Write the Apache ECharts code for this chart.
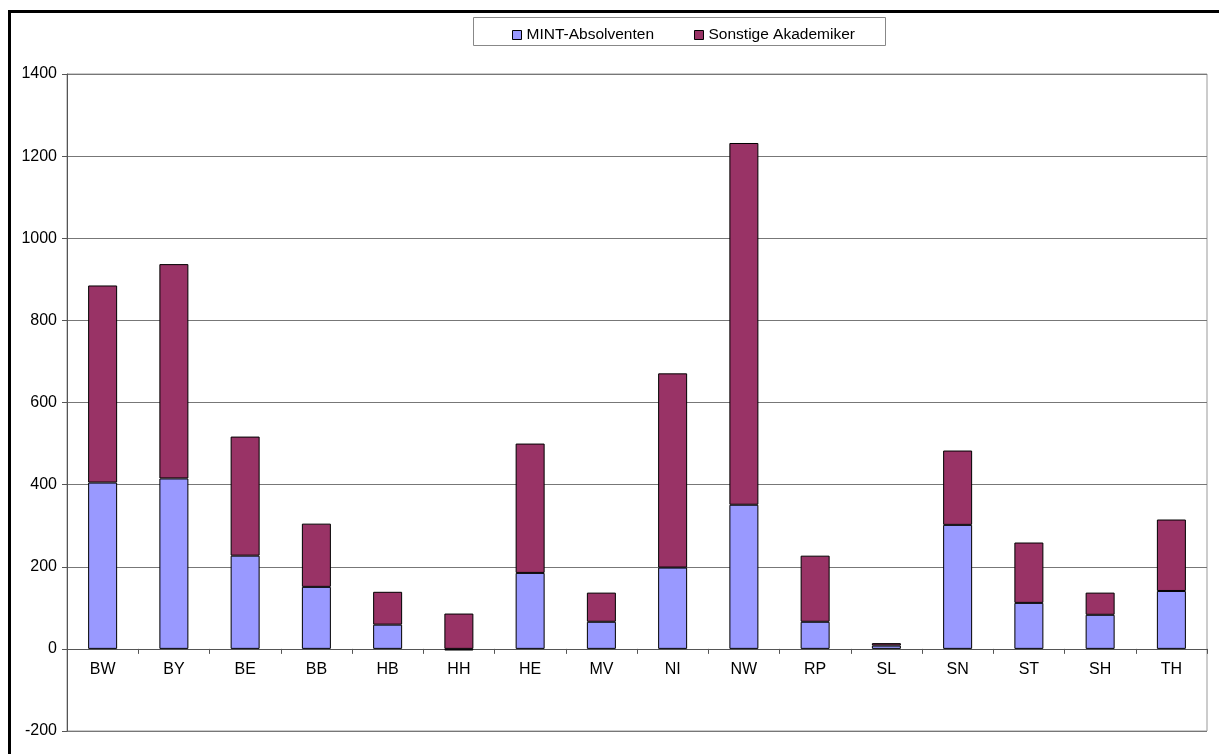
<!DOCTYPE html>
<html>
<head>
<meta charset="utf-8">
<script src="https://cdn.jsdelivr.net/npm/echarts@6/dist/echarts.min.js"></script>
<style>
html, body { margin: 0; padding: 0; background: #fff; }
#chart { width: 1219px; height: 754px; }
</style>
</head>
<body>
<div id="chart"></div>
<script>
// Bundesländer
var laender = ["BW", "BY", "BE", "BB", "HB", "HH", "HE", "MV", "NI", "NW", "RP", "SL", "SN", "ST", "SH", "TH"];
var mint = [405, 415, 227, 151, 59, -4, 185, 66, 198, 351, 66, 8, 302, 112, 83, 141];
var sonstige = [480, 522, 290, 154, 80, 86, 315, 71, 473, 881, 161, 6, 181, 147, 54, 174];

var myChart = echarts.init(document.getElementById("chart"));
myChart.setOption({
  animation: false,
  textStyle: { fontFamily: "Liberation Sans, Arial, sans-serif" },
  color: ["#9999FF", "#993366"],
  graphic: [
    {
      // outer frame
      type: "rect",
      shape: { x: 9.5, y: 11.5, width: 1400, height: 900 },
      style: { fill: "none", stroke: "#000", lineWidth: 3 },
      silent: true
    },
    {
      // legend box
      type: "rect",
      shape: { x: 473.5, y: 17.5, width: 412, height: 28 },
      style: { fill: "#fff", stroke: "#888", lineWidth: 1 },
      silent: true,
      z: 0
    }
  ],
  grid: {
    left: 67,
    right: 12,
    top: 74,
    bottom: 23,
    outerBoundsMode: "none",
    show: true,
    borderColor: "#999",
    borderWidth: 1
  },
  legend: {
    top: 22,
    left: 507,
    itemWidth: 9,
    itemHeight: 9,
    itemGap: 40,
    icon: "rect",
    textStyle: { color: "#000", fontSize: 15.5 },
    itemStyle: { borderColor: "#000", borderWidth: 1 },
    z: 5
  },
  xAxis: [
    {
      type: "category",
      data: laender,
      axisLine: { onZero: true, lineStyle: { color: "#555", width: 1 } },
      axisTick: { show: true, length: 5, lineStyle: { color: "#555" } },
      axisLabel: { show: false }
    },
    {
      // labels just under the zero line
      type: "category",
      data: laender,
      position: "bottom",
      offset: -82,
      axisLine: { show: false },
      axisTick: { show: false },
      axisLabel: { color: "#000", fontSize: 16, margin: 13 }
    }
  ],
  yAxis: {
    type: "value",
    min: -200,
    max: 1400,
    interval: 200,
    axisLine: { show: true, lineStyle: { color: "#555" } },
    axisTick: { show: true, length: 5, lineStyle: { color: "#555" } },
    axisLabel: {
      color: "#000",
      fontSize: 16,
      margin: 10,
      formatter: function (v) { return String(v); }
    },
    splitLine: { show: true, lineStyle: { color: "#777", width: 1 } }
  },
  series: [
    {
      name: "MINT-Absolventen",
      type: "bar",
      stack: "gesamt",
      barWidth: 29,
      itemStyle: { borderColor: "#000", borderWidth: 1 },
      data: mint
    },
    {
      name: "Sonstige Akademiker",
      type: "bar",
      stack: "gesamt",
      barWidth: 29,
      itemStyle: { borderColor: "#000", borderWidth: 1 },
      data: sonstige
    }
  ]
});
</script>
</body>
</html>
